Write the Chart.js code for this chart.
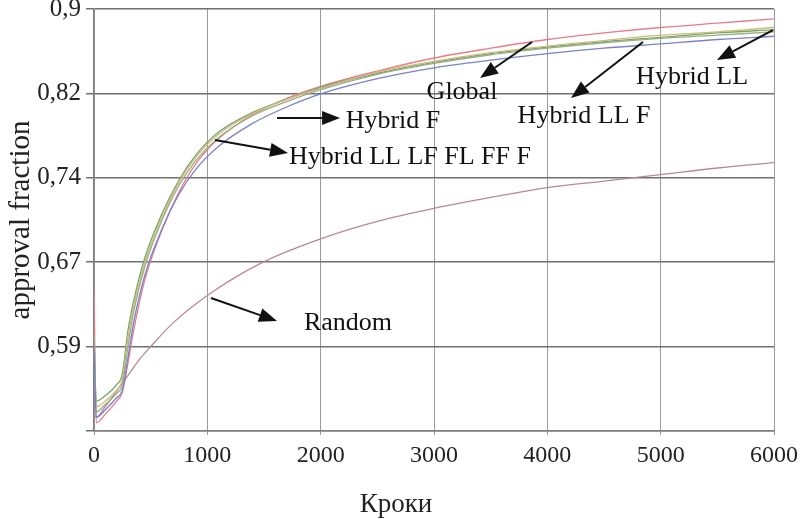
<!DOCTYPE html>
<html lang="uk">
<head>
  <meta charset="UTF-8">
  <title>approval fraction</title>
  <script src="https://cdn.jsdelivr.net/npm/chart.js"></script>
  <style>
    body { margin: 0; background: #fff; }
    #wrap { width: 801px; height: 519px; }
  </style>
</head>
<body>
  <div id="wrap"><canvas id="myChart"></canvas></div>
  <script>
    // steps (Кроки) shared by the hybrid/global runs
    var steps = [0, 20, 100, 200, 250, 300, 350, 450, 600, 750, 900, 1100, 1400, 1700, 2000, 2500, 3000, 3500, 4000, 4500, 5000, 5500, 6000];

    var globalRun   = [0.645, 0.52, 0.528, 0.54, 0.548, 0.575, 0.605, 0.652, 0.697, 0.732, 0.758, 0.781, 0.803, 0.818, 0.829, 0.843, 0.855, 0.864, 0.872, 0.878, 0.883, 0.887, 0.891];
    var hybridF     = [0.60, 0.535, 0.54, 0.55, 0.56, 0.598, 0.627, 0.668, 0.709, 0.741, 0.764, 0.785, 0.804, 0.817, 0.827, 0.842, 0.852, 0.860, 0.866, 0.871, 0.876, 0.879, 0.883];
    var hybridAll   = [0.60, 0.54, 0.545, 0.555, 0.565, 0.605, 0.632, 0.672, 0.712, 0.743, 0.766, 0.787, 0.805, 0.817, 0.828, 0.841, 0.851, 0.859, 0.865, 0.870, 0.874, 0.878, 0.881];
    var hybridLLF   = [0.60, 0.53, 0.537, 0.547, 0.555, 0.59, 0.622, 0.664, 0.706, 0.738, 0.761, 0.782, 0.802, 0.815, 0.826, 0.840, 0.850, 0.858, 0.864, 0.869, 0.873, 0.876, 0.879];
    var hybridLL    = [0.59, 0.525, 0.532, 0.543, 0.55, 0.58, 0.612, 0.656, 0.698, 0.73, 0.753, 0.774, 0.795, 0.81, 0.822, 0.836, 0.846, 0.853, 0.859, 0.864, 0.868, 0.872, 0.875];

    var randomSteps = [0, 20, 100, 220, 310, 400, 500, 700, 1000, 1500, 2000, 2500, 3000, 3500, 4000, 4500, 5000, 5500, 6000];
    var randomRun   = [0.53, 0.525, 0.535, 0.552, 0.565, 0.578, 0.59, 0.612, 0.637, 0.668, 0.689, 0.705, 0.717, 0.727, 0.736, 0.742, 0.748, 0.754, 0.759];

    var yTicks = [0.5125, 0.59, 0.6675, 0.745, 0.8225, 0.9];
    var yTickLabels = ['', '0,59', '0,67', '0,74', '0,82', '0,9'];

    var xTitle = 'Кроки';
    var xTitleAt = 2665; // step value under the centre of the title

    // annotation labels, placed in data units
    var noteText  = ['Global', 'Hybrid LL F', 'Hybrid LL', 'Hybrid F', 'Hybrid LL LF FL FF F', 'Random'];
    var noteX     = [3247, 4324, 5277, 2638, 2788, 2241];
    var noteY     = [0.8238, 0.8017, 0.8376, 0.7972, 0.7641, 0.6117];
    var arrowFrom = [[3865, 0.8697], [4844, 0.8697], [5991, 0.8807], [1615, 0.800], [1068, 0.7797], [1032, 0.6346]];
    var arrowTo   = [[3406, 0.8366], [4209, 0.8183], [5497, 0.8532], [2171, 0.800], [1712, 0.7678], [1615, 0.6135]];

    function pts(xs, ys) {
      return xs.map(function (x, i) { return { x: x, y: ys[i] }; });
    }

    function line(label, xs, ys, color) {
      return {
        label: label,
        data: pts(xs, ys),
        borderColor: color,
        borderWidth: 1.3,
        pointRadius: 0,
        fill: false,
        cubicInterpolationMode: 'monotone'
      };
    }

    var serif = "'Liberation Serif', 'DejaVu Serif', serif";

    var notes = {
      id: 'notes',
      afterDatasetsDraw: function (chart) {
        var c = chart.ctx, xs = chart.scales.x, ys = chart.scales.y;
        c.save();
        c.fillStyle = '#111';
        c.strokeStyle = '#111';
        c.lineWidth = 2;
        for (var i = 0; i < noteText.length; i++) {
          var x1 = xs.getPixelForValue(arrowFrom[i][0]), y1 = ys.getPixelForValue(arrowFrom[i][1]);
          var x2 = xs.getPixelForValue(arrowTo[i][0]), y2 = ys.getPixelForValue(arrowTo[i][1]);
          var a = Math.atan2(y2 - y1, x2 - x1);
          var hl = 18, hw = 7;
          var bx = x2 - hl * Math.cos(a), by = y2 - hl * Math.sin(a);
          c.beginPath();
          c.moveTo(x1, y1);
          c.lineTo(bx, by);
          c.stroke();
          c.beginPath();
          c.moveTo(x2, y2);
          c.lineTo(bx + hw * Math.sin(a), by - hw * Math.cos(a));
          c.lineTo(bx - hw * Math.sin(a), by + hw * Math.cos(a));
          c.closePath();
          c.fill();
        }
        c.font = '26px ' + serif;
        c.textAlign = 'center';
        c.textBaseline = 'middle';
        for (var j = 0; j < noteText.length; j++) {
          c.fillText(noteText[j], xs.getPixelForValue(noteX[j]), ys.getPixelForValue(noteY[j]));
        }
        // x axis title
        c.fillStyle = '#222';
        c.font = '27px ' + serif;
        c.textBaseline = 'alphabetic';
        c.fillText(xTitle, xs.getPixelForValue(xTitleAt), xs.bottom - 7);
        c.restore();
      }
    };

    var ctx = document.getElementById('myChart').getContext('2d');

    var myChart = new Chart(ctx, {
      type: 'line',
      data: {
        datasets: [
          line('Hybrid LL', steps, hybridLL, '#7a82c6'),
          line('Hybrid LL F', steps, hybridLLF, '#9aae88'),
          line('Hybrid F', steps, hybridF, '#cdbd7c'),
          line('Hybrid LL LF FL FF F', steps, hybridAll, '#76a466'),
          line('Global', steps, globalRun, '#e77d8a'),
          line('Random', randomSteps, randomRun, '#b98894')
        ]
      },
      plugins: [notes],
      options: {
        responsive: true,
        maintainAspectRatio: false,
        animation: false,
        layout: { padding: { top: 9, right: 27, left: 0, bottom: 0 } },
        plugins: {
          legend: { display: false },
          tooltip: { enabled: false }
        },
        scales: {
          x: {
            type: 'linear',
            min: 0,
            max: 6000,
            afterFit: function (s) { s.height = 88; s.paddingLeft = 0; s.paddingRight = 0; },
            grid: { color: '#9a9a9a', lineWidth: 1, tickLength: 4 },
            border: { color: '#808080', width: 1.5 },
            ticks: {
              stepSize: 1000,
              color: '#222',
              font: { family: serif, size: 24 },
              maxRotation: 0,
              padding: 6,
              callback: function (v) { return String(v); }
            }
          },
          y: {
            type: 'linear',
            min: 0.5125,
            max: 0.9,
            afterFit: function (s) { s.width = 94; s.paddingTop = 0; s.paddingBottom = 0; },
            afterBuildTicks: function (s) {
              s.ticks = yTicks.map(function (v) { return { value: v }; });
            },
            grid: { color: '#707070', lineWidth: 1.5, tickLength: 8 },
            border: { color: '#808080', width: 1.5 },
            ticks: {
              color: '#222',
              font: { family: serif, size: 25 },
              padding: 5,
              callback: function (v, i) { return yTickLabels[i]; }
            },
            title: {
              display: true,
              text: 'approval fraction',
              color: '#222',
              font: { family: serif, size: 29 },
              padding: { bottom: 0 }
            }
          }
        }
      }
    });
  </script>
</body>
</html>
